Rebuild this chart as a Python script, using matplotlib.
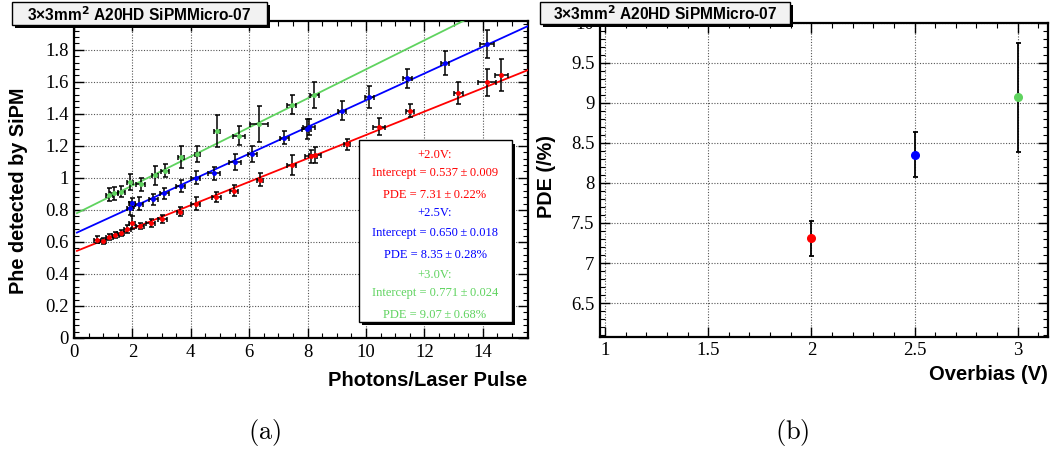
import matplotlib
matplotlib.use("Agg")
import matplotlib.pyplot as plt
from matplotlib.patches import Rectangle
from matplotlib.ticker import MultipleLocator
from matplotlib.font_manager import FontProperties
import numpy as np

plt.rcParams["font.family"] = ["Liberation Serif", "DejaVu Serif"]
plt.rcParams["mathtext.fontset"] = "cm"

# ---------------- data ----------------
title_text = "3\u00d73mm$^{\\mathbf{2}}$ A20HD SiPMMicro-07"

red_x = [0.80, 0.98, 1.20, 1.41, 1.60, 1.83, 2.00, 2.26, 2.63, 3.03, 3.62, 4.17, 4.88, 5.48, 6.38,
         7.45, 8.11, 8.26, 9.35, 10.45, 11.51, 13.16, 14.15, 14.63]
red_y = [0.614, 0.605, 0.630, 0.645, 0.655, 0.680, 0.720, 0.700, 0.720, 0.745, 0.790, 0.838, 0.880,
         0.920, 0.990, 1.080, 1.134, 1.145, 1.210, 1.321, 1.420, 1.530, 1.596, 1.645]
red_xerr = [0.12, 0.12, 0.12, 0.12, 0.12, 0.12, 0.10, 0.15, 0.15, 0.15, 0.10, 0.15, 0.15, 0.15, 0.10,
            0.15, 0.20, 0.20, 0.10, 0.20, 0.15, 0.15, 0.30, 0.22]
red_yerr = [0.02, 0.02, 0.02, 0.02, 0.02, 0.025, 0.04, 0.02, 0.025, 0.025, 0.03, 0.04, 0.03, 0.035,
            0.04, 0.06, 0.04, 0.05, 0.035, 0.055, 0.04, 0.07, 0.085, 0.10]

blue_x = [1.92, 1.98, 2.23, 2.72, 3.09, 3.66, 4.17, 4.80, 5.52, 6.11, 7.20, 7.97, 8.06, 9.18, 10.12,
          11.41, 12.71, 14.15]
blue_y = [0.810, 0.845, 0.840, 0.866, 0.904, 0.950, 1.000, 1.030, 1.098, 1.148, 1.252, 1.305, 1.315,
          1.419, 1.504, 1.623, 1.717, 1.835]
blue_xerr = [0.10, 0.10, 0.15, 0.15, 0.15, 0.15, 0.15, 0.20, 0.20, 0.15, 0.15, 0.15, 0.20, 0.15, 0.15,
             0.15, 0.15, 0.25]
blue_yerr = [0.04, 0.03, 0.04, 0.035, 0.035, 0.035, 0.04, 0.04, 0.05, 0.05, 0.04, 0.06, 0.05, 0.06,
             0.07, 0.06, 0.075, 0.088]

green_x = [1.20, 1.37, 1.62, 1.91, 2.29, 2.77, 3.12, 3.66, 4.23, 4.91, 5.66, 6.34, 7.45, 8.23]
green_y = [0.894, 0.905, 0.915, 0.972, 0.960, 1.015, 1.046, 1.129, 1.150, 1.290, 1.263, 1.337,
           1.456, 1.518]
green_xerr = [0.12, 0.12, 0.12, 0.10, 0.15, 0.10, 0.15, 0.10, 0.10, 0.10, 0.20, 0.30, 0.15, 0.15]
green_yerr = [0.04, 0.04, 0.035, 0.05, 0.04, 0.06, 0.04, 0.07, 0.05, 0.10, 0.06, 0.11, 0.06, 0.08]

overbias = [2.0, 2.5, 3.0]
intercepts = [0.537, 0.650, 0.771]
intercept_errs = [0.009, 0.018, 0.024]
pde = [7.31, 8.35, 9.07]
pde_err = [0.22, 0.28, 0.68]
series_labels = ["+2.0V:", "+2.5V:", "+3.0V:"]

left_xticks = [0, 2, 4, 6, 8, 10, 12, 14]
left_yticks = [0, 0.2, 0.4, 0.6, 0.8, 1.0, 1.2, 1.4, 1.6, 1.8]
left_yticklabels = ["0", "0.2", "0.4", "0.6", "0.8", "1", "1.2", "1.4", "1.6", "1.8"]
right_xticks = [1, 1.5, 2, 2.5, 3]
right_xticklabels = ["1", "1.5", "2", "2.5", "3"]
right_yticks = [6.5, 7, 7.5, 8, 8.5, 9, 9.5, 10]
right_yticklabels = ["6.5", "7", "7.5", "8", "8.5", "9", "9.5", "10"]

colors = ["#ff0000", "#0000ff", "#5fd35f"]

W, H = 1061, 450
fig = plt.figure(figsize=(W / 100, H / 100), dpi=100)
TICK_FP = FontProperties(family="Liberation Serif", size=13.5)


def fx(px):
    return px / W


def fy(py):
    return 1 - py / H


def style_axes(ax):
    for s in ax.spines.values():
        s.set_linewidth(1.6)
    ax.tick_params(which="both", direction="in", top=True, right=True, pad=4,
                   labelsize=13.5, labelfontfamily="Liberation Serif")
    ax.tick_params(which="major", length=7, width=1.0)
    ax.tick_params(which="minor", length=3.5, width=0.8)
    ax.grid(True, which="major", linestyle=(0, (1, 1.5)), color="#555555", linewidth=0.8)
    ax.set_axisbelow(True)


def fix_ticklabels(ax):
    for lab in ax.get_xticklabels(which="both") + ax.get_yticklabels(which="both"):
        lab.set_fontproperties(TICK_FP)


def title_box(x0, y0, x1, y1):
    shadow = Rectangle((fx(x0 + 2.5), fy(y1 + 2.5)), fx(x1 - x0), (y1 - y0) / H,
                       transform=fig.transFigure, facecolor="black", edgecolor="none", zorder=10)
    box = Rectangle((fx(x0), fy(y1)), fx(x1 - x0), (y1 - y0) / H,
                    transform=fig.transFigure, facecolor="#f2f2f2", edgecolor="black",
                    linewidth=1.0, zorder=11)
    fig.add_artist(shadow)
    fig.add_artist(box)
    fig.text(fx((x0 + x1) / 2), fy((y0 + y1) / 2 + 1), title_text, ha="center", va="center",
             fontsize=11.2, fontweight="bold", family="Liberation Sans", zorder=12,
             math_fontfamily="dejavusans")


# ---------------- left panel ----------------
axL = fig.add_axes([fx(74), fy(338), fx(528 - 74), (338 - 21) / H])
style_axes(axL)
axL.set_xlim(0, 15.55)
axL.set_ylim(0, 1.98)
axL.set_yticks(left_yticks)
axL.set_yticklabels(left_yticklabels)
axL.set_xticks(left_xticks)
axL.set_xticklabels([str(v) for v in left_xticks])
axL.xaxis.set_minor_locator(MultipleLocator(0.5))
axL.yaxis.set_minor_locator(MultipleLocator(0.04))

xs_fit = np.array([0.1, 15.55])
data_sets = [(red_x, red_y, red_xerr, red_yerr), (blue_x, blue_y, blue_xerr, blue_yerr),
             (green_x, green_y, green_xerr, green_yerr)]
for (x, y, xe, ye), c, b, p in zip(data_sets, colors, intercepts, pde):
    axL.plot(xs_fit, b + p / 100 * xs_fit, color=c, linewidth=1.3, zorder=3)
    axL.errorbar(x, y, xerr=xe, yerr=ye, fmt="none", ecolor="black", elinewidth=1.1,
                 capsize=1.8, capthick=1.1, zorder=4)
    axL.plot(x, y, "o", color=c, markersize=2.5, zorder=5)

# legend/stats box
lx0, lx1, ly0, ly1 = 358.5, 511.5, 140.5, 321.5
fig.add_artist(Rectangle((fx(lx0 + 3), fy(ly1 + 3)), fx(lx1 - lx0), (ly1 - ly0) / H,
                         transform=fig.transFigure, facecolor="black", edgecolor="none", zorder=20))
fig.add_artist(Rectangle((fx(lx0), fy(ly1)), fx(lx1 - lx0), (ly1 - ly0) / H,
                         transform=fig.transFigure, facecolor="white", edgecolor="black",
                         linewidth=1.0, zorder=21))
line_y = [155.3, 172.7, 195.0, 213.3, 233.3, 255.0, 275.0, 293.3, 315.0]
texts = []
for lab, b, be, p, pe in zip(series_labels, intercepts, intercept_errs, pde, pde_err):
    texts.append(lab)
    texts.append(f"Intercept = {b:.3f}\u2009\u00b1\u2009{be:.3f}")
    texts.append(f"PDE = {p:.2f}\u2009\u00b1\u2009{pe:.2f}%")
for i, (t, yy) in enumerate(zip(texts, line_y)):
    fig.text(fx((lx0 + lx1) / 2), fy(yy), t, ha="center", va="center", fontsize=9.0,
             family="Liberation Serif", color=colors[i // 3], zorder=22)

fig.text(fx(19), fy(191), "Phe detected by SiPM", rotation=90, ha="center", va="center",
         fontsize=14.3, fontweight="bold", family="Liberation Sans")
fig.text(fx(527), fy(380), "Photons/Laser Pulse", ha="right", va="center",
         fontsize=14.5, fontweight="bold", family="Liberation Sans")

title_box(12, 2, 267, 25)

# ---------------- right panel ----------------
axR = fig.add_axes([fx(600), fy(336.7), fx(1048.3 - 600), (336.7 - 22.7) / H])
style_axes(axR)
axR.set_xlim(0.976, 3.148)
axR.set_ylim(6.08, 10.0)
axR.set_xticks(right_xticks)
axR.set_xticklabels(right_xticklabels)
axR.set_yticks(right_yticks)
axR.set_yticklabels(right_yticklabels)
axR.xaxis.set_minor_locator(MultipleLocator(0.1))
axR.yaxis.set_minor_locator(MultipleLocator(0.1))
for xb, p, pe, c in zip(overbias, pde, pde_err, colors):
    axR.errorbar([xb], [p], yerr=[pe], fmt="none", ecolor="black", elinewidth=1.3,
                 capsize=1.8, capthick=1.3, zorder=4)
    axR.plot([xb], [p], "o", color=c, markersize=5.5, zorder=5, clip_on=False)

fig.text(fx(547), fy(177), "PDE (/%)", rotation=90, ha="center", va="center",
         fontsize=14.3, fontweight="bold", family="Liberation Sans")
fig.text(fx(1048), fy(375), "Overbias (V)", ha="right", va="center",
         fontsize=14.5, fontweight="bold", family="Liberation Sans")

title_box(540, 2, 790, 24)

# captions
fig.text(fx(265), fy(432), r"$\mathrm{(a)}$", ha="center", va="center", fontsize=19)
fig.text(fx(792), fy(432), r"$\mathrm{(b)}$", ha="center", va="center", fontsize=19)

fig.canvas.draw()
fix_ticklabels(axL)
fix_ticklabels(axR)
fig.savefig("out.png", dpi=100)
